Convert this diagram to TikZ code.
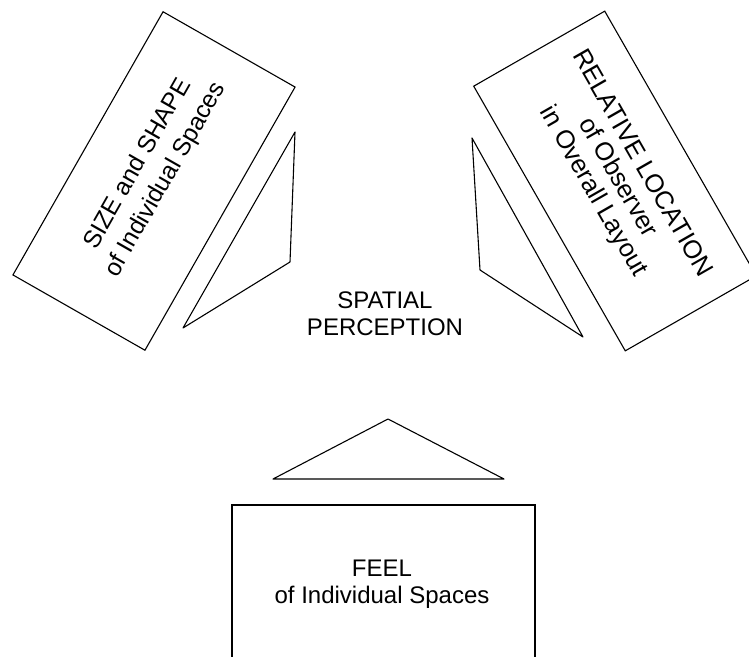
\documentclass[tikz,border=0pt]{standalone}
\usepackage{fontspec}
\setmainfont{Liberation Sans}
\begin{document}
\begin{tikzpicture}[x=1pt,y=1pt,
  lbl/.style={align=center, inner sep=0pt, font=\fontsize{24}{27}\selectfont},
  panel/.style={draw, line width=1.1pt, inner sep=0pt},
  shp/.style={draw, line width=1.1pt, line join=round}]
\useasboundingbox (0,0) rectangle (749,656);
\clip (0,0) rectangle (749,656);
% left panel
\node[panel, minimum width=303pt, minimum height=152pt, rotate=60.3] (sizebox) at (154,475) {};
\node[lbl, rotate=60.3, font=\fontsize{24.5}{32}\selectfont] (sizetext) at (152,484) {SIZE and SHAPE\\of Individual Spaces};
\draw[shp] (295,524) -- (290,394) -- (183,328) -- cycle;
% right panel
\node[panel, minimum width=305pt, minimum height=151pt, rotate=-60.2] (relbox) at (615,475) {};
\node[lbl, rotate=-60.2, font=\fontsize{25.5}{28}\selectfont] (reltext) at (617,478) {RELATIVE LOCATION\\of Observer\\in Overall Layout};
\draw[shp] (472,518) -- (480,386) -- (583,319) -- cycle;
% centre
\node[lbl] (spatial) at (385,342) {SPATIAL\\PERCEPTION};
% bottom
\draw[shp] (388,237) -- (273,177) -- (504,177) -- cycle;
\node[panel, minimum width=303pt, minimum height=171pt] (feelbox) at (383.5,65.5) {};
\node[lbl] (feeltext) at (382,72) {FEEL\\of Individual Spaces};
\end{tikzpicture}
\end{document}
